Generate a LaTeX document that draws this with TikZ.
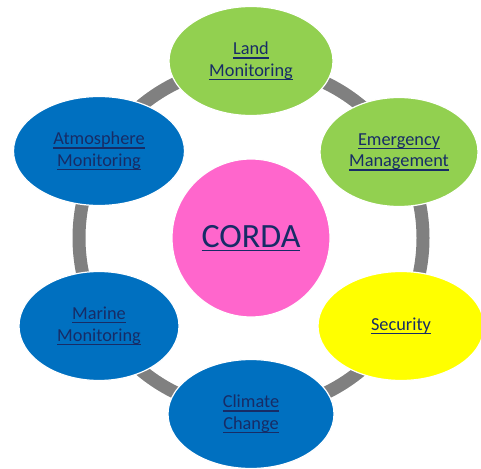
\documentclass[tikz,border=0pt]{standalone}
\usepackage{fontspec}
\setmainfont{Carlito}
\usetikzlibrary{shapes.geometric}

\definecolor{ringgray}{HTML}{808080}
\definecolor{leafgreen}{HTML}{92D050}
\definecolor{oceanblue}{HTML}{0070C0}
\definecolor{alertyellow}{HTML}{FFFF00}
\definecolor{hubpink}{HTML}{FF66CC}
\definecolor{linknavy}{HTML}{172C66}

% underline at a fixed depth below the baseline
\newcommand{\ulink}[1]{\setbox0\hbox{#1}\rlap{\rule[-3.8pt]{\wd0}{1.1pt}}\box0}

\tikzset{
	topic/.style={ellipse, draw=white, line width=1.2pt, minimum width=164pt, minimum height=109pt,
		inner sep=0pt, align=center, text=linknavy, font=\fontsize{18.3}{21.5}\selectfont},
	hub/.style={circle, draw=white, line width=1.2pt, fill=hubpink, minimum size=158pt,
		inner sep=0pt, text=linknavy, font=\fontsize{34}{40}\selectfont},
	ring/.style={line width=13pt, ringgray}
}

\begin{document}
\begin{tikzpicture}[x=1pt, y=-1pt]
	\useasboundingbox (0,0) rectangle (481,468);
	\clip (0,0) rectangle (481,468);

	\coordinate (mid) at (251,238);
	\draw[ring] (mid) circle (172pt);
	\node (corda) [hub] at (mid) {\ulink{CORDA}};

	\node (land) [topic, fill=leafgreen] at (251,61) {\ulink{Land}\\\ulink{Monitoring}};
	\node (emergency) [topic, fill=leafgreen, minimum width=158pt] at (399,152) {\ulink{Emergency}\\\ulink{Management}};
	\node (security) [topic, fill=alertyellow, minimum width=166pt] at (401,326) {\ulink{Security}};
	\node (climate) [topic, fill=oceanblue, minimum width=166pt] at (251,414) {\ulink{Climate}\\\ulink{Change}};
	\node (marine) [topic, fill=oceanblue, minimum width=160pt] at (99,326) {\ulink{Marine}\\\ulink{Monitoring}};
	\node (atmosphere) [topic, fill=oceanblue, minimum width=171pt] at (99,151) {\ulink{Atmosphere}\\\ulink{Monitoring}};
\end{tikzpicture}
\end{document}
